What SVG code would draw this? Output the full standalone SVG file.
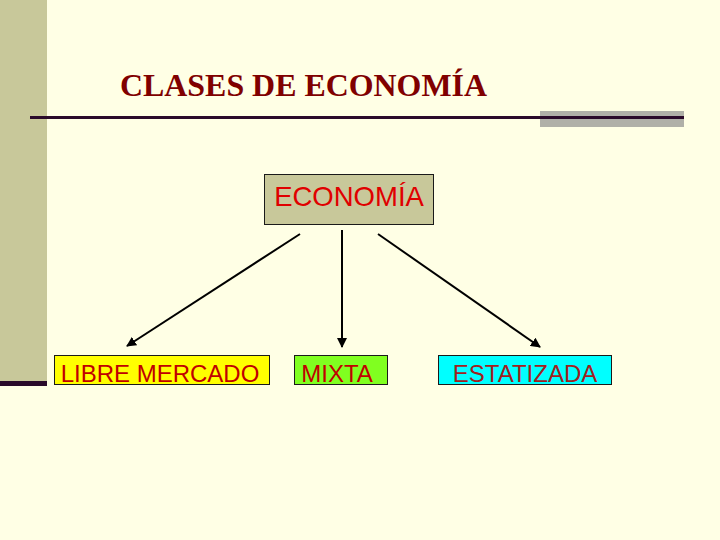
<svg xmlns="http://www.w3.org/2000/svg" width="720" height="540" viewBox="0 0 720 540">
<style>
.box{stroke:#1a1a1a;stroke-width:1}
.lbl{font-family:"Liberation Sans",Arial,sans-serif;font-size:24px;text-anchor:middle}
.conn line{stroke:#000;stroke-width:2;marker-end:url(#ah)}
</style>
<defs>
<marker id="ah" viewBox="0 0 10 10" refX="9" refY="5" markerWidth="5" markerHeight="5" orient="auto" markerUnits="strokeWidth">
<path d="M0,0 L10,5 L0,10 z" fill="#000"/>
</marker>
</defs>
<rect width="720" height="540" fill="#ffffe5"/>
<rect x="0" y="0" width="47" height="381" fill="#c8c89a"/>
<rect x="0" y="381" width="47" height="5" fill="#2a0a2a"/>
<rect x="540" y="111" width="144" height="16" fill="#b0b0a8"/>
<line x1="30" y1="117.5" x2="684" y2="117.5" stroke="#2a0a2a" stroke-width="3"/>
<text x="120" y="96" font-family="Liberation Serif,Times New Roman,serif" font-size="32" font-weight="bold" fill="#800000" textLength="367" lengthAdjust="spacingAndGlyphs">CLASES DE ECONOMÍA</text>
<g id="economia">
<rect class="box" x="264.5" y="174.5" width="169" height="50" fill="#c8c89a"/>
<text class="lbl" x="349" y="206" style="font-size:27.5px" fill="#e00000">ECONOMÍA</text>
</g>
<g id="libre">
<rect class="box" x="54.5" y="355.5" width="215" height="29" fill="#ffff00"/>
<text class="lbl" x="160" y="382" fill="#c00000">LIBRE MERCADO</text>
</g>
<g id="mixta">
<rect class="box" x="294.5" y="355.5" width="93" height="29" fill="#80ff20"/>
<text class="lbl" x="337" y="382" fill="#c00000">MIXTA</text>
</g>
<g id="estatizada">
<rect class="box" x="438.5" y="355.5" width="173" height="29" fill="#00ffff"/>
<text class="lbl" x="525" y="382" fill="#a02020">ESTATIZADA</text>
</g>
<g class="conn">
<line x1="300" y1="234" x2="127" y2="346"/>
<line x1="342" y1="230" x2="342" y2="347"/>
<line x1="378" y1="234" x2="540" y2="347"/>
</g>
</svg>
